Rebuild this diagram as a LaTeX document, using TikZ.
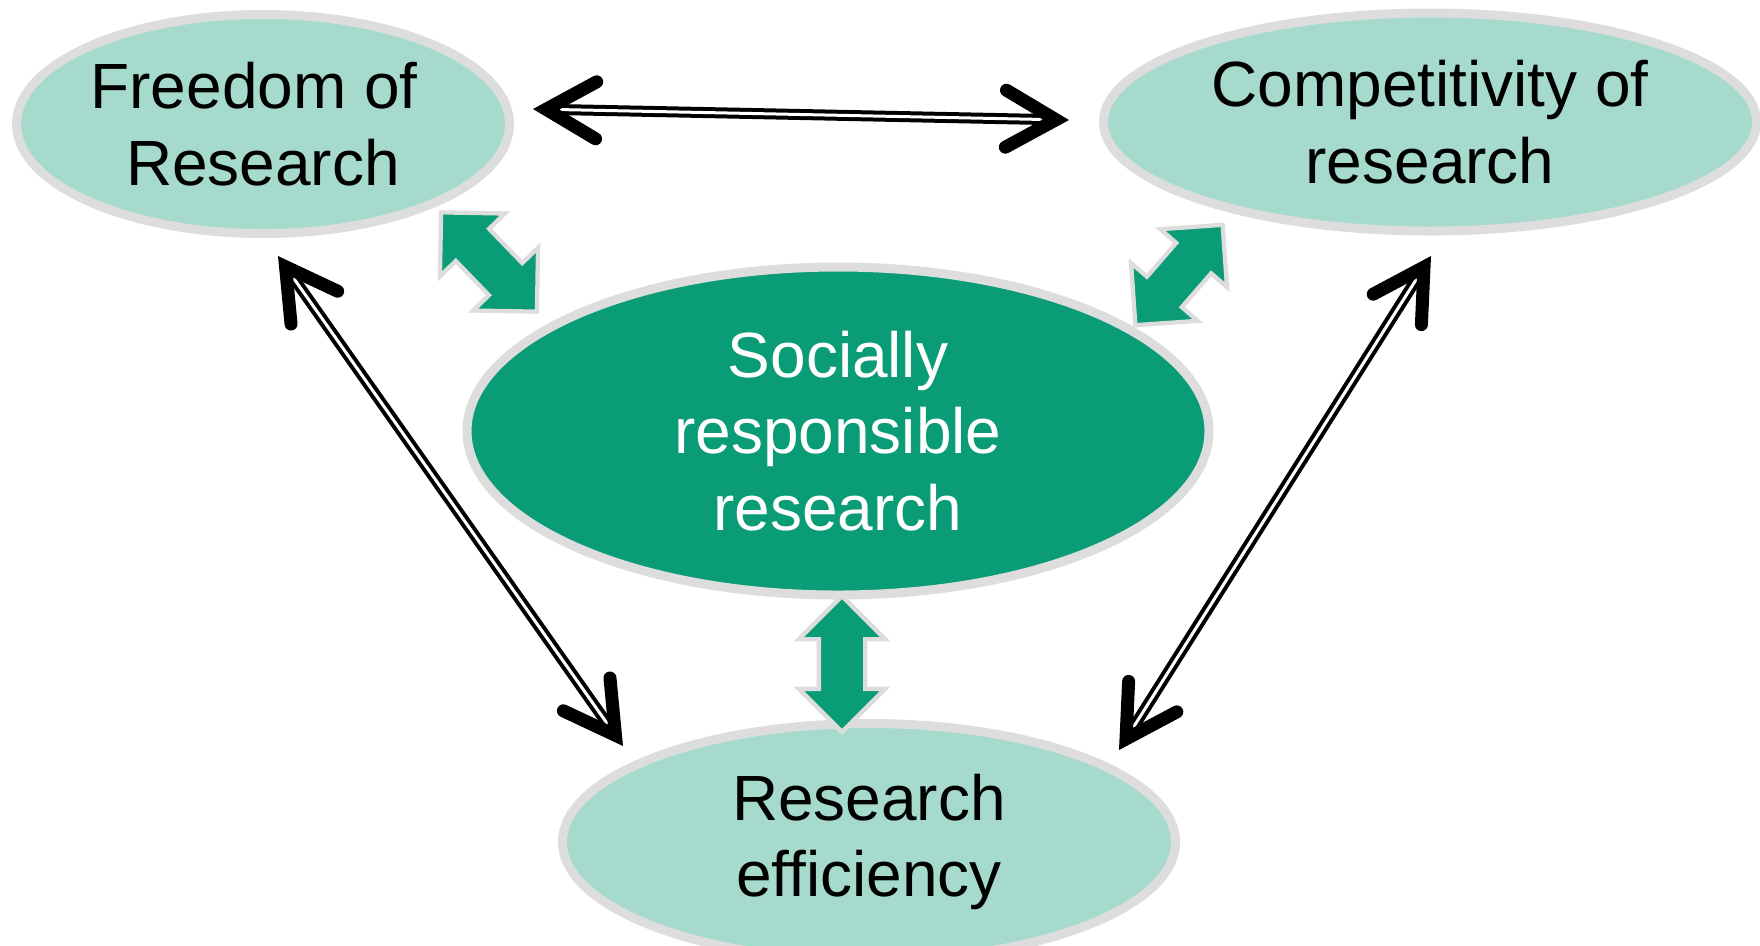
\documentclass[tikz,border=0pt]{standalone}
\usepackage{fontspec}
\setmainfont{Liberation Sans}
\usepackage{xcolor}
\usetikzlibrary{shapes.geometric,shapes.arrows,arrows.meta}

\definecolor{paleteal}{HTML}{A5DACD}
\definecolor{deepteal}{HTML}{0A9B77}
\definecolor{rimgrey}{HTML}{DDDDDD}

\begin{document}
\begin{tikzpicture}[x=0.1mm, y=-0.1mm,
    topic/.style={draw=rimgrey, line width=0.9mm, ellipse, fill=paleteal, align=center, inner sep=0pt, font=\fontsize{18.2pt}{21.7pt}\selectfont},
    core/.style={topic, fill=deepteal, text=white},
    link/.style={draw=black, line width=0.4mm, double=white, double distance=0.3mm, >={Straight Barb[length=5mm, width=5.7mm, line width=1.3mm, line cap=round]}, <->},
    blockarrow/.style={double arrow, draw=rimgrey, line width=0.43mm, fill=deepteal, inner xsep=0pt, inner ysep=2.1mm, double arrow head extend=2.2mm}]
        \useasboundingbox (0,0) rectangle (1760,945);

        % Four fields
        \node[topic, minimum width=49.3mm, minimum height=21.9mm] (freedom) at (263,124) {\mbox{Freedom of }\\Research};
        \node[topic, minimum width=65.3mm, minimum height=21.8mm] (compet) at (1430,122) {Competitivity of\\research};
        \node[core, minimum width=74.2mm, minimum height=32.8mm] (social) at (838,431) {Socially\\responsible\\research};
        \node[topic, minimum width=61.3mm, minimum height=23.7mm] (effic) at (869,842) {Research\\efficiency};

        % Green block arrows to the centre
        \node[blockarrow, rotate=-46, minimum height=13.8mm] (fr-social) at (489,262) {};
        \node[blockarrow, rotate=49, minimum height=13.3mm, double arrow head extend=2.1mm] (co-social) at (1179,275) {};
        \node[blockarrow, rotate=90, minimum height=13.6mm, double arrow head extend=2mm] (ef-social) at (842,664) {};

        % Ends of the outer arrows
        \coordinate (fr-e) at (533,109);
        \coordinate (co-w) at (1069,120);
        \coordinate (fr-s) at (278,256);
        \coordinate (ef-nw) at (623,746);
        \coordinate (co-s) at (1431,256);
        \coordinate (ef-ne) at (1119,750);

        % Outer arrows
        \draw[link] (fr-e) -- (co-w);
        \draw[link] (fr-s) -- (ef-nw);
        \draw[link] (co-s) -- (ef-ne);
    \end{tikzpicture}
\end{document}
